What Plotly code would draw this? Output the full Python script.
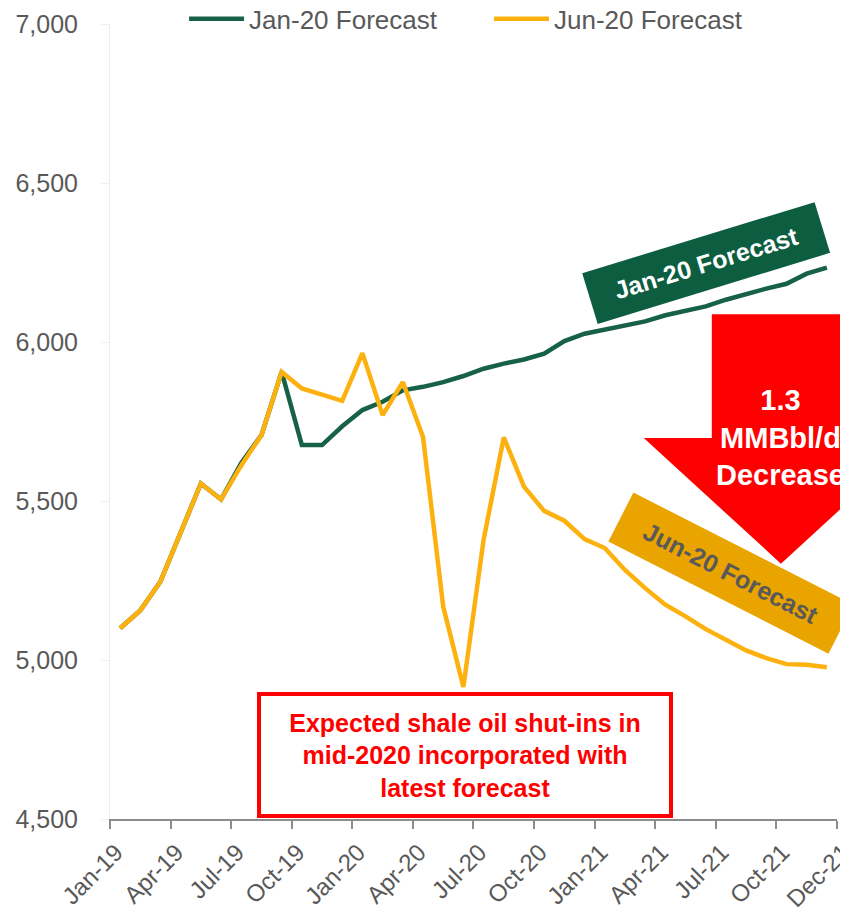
import plotly.graph_objects as go

# ---------------- data ----------------
months = [
    "Jan-19", "Feb-19", "Mar-19", "Apr-19", "May-19", "Jun-19",
    "Jul-19", "Aug-19", "Sep-19", "Oct-19", "Nov-19", "Dec-19",
    "Jan-20", "Feb-20", "Mar-20", "Apr-20", "May-20", "Jun-20",
    "Jul-20", "Aug-20", "Sep-20", "Oct-20", "Nov-20", "Dec-20",
    "Jan-21", "Feb-21", "Mar-21", "Apr-21", "May-21", "Jun-21",
    "Jul-21", "Aug-21", "Sep-21", "Oct-21", "Nov-21", "Dec-21",
]

jan20_forecast = [
    5100, 5156, 5247, 5404, 5555, 5505, 5620, 5707, 5906, 5676, 5676, 5735,
    5786, 5812, 5848, 5859, 5874, 5893, 5916, 5932, 5945, 5963, 6003, 6026,
    6040, 6052, 6065, 6084, 6099, 6112, 6133, 6152, 6168, 6183, 6215, 6234,
]

jun20_forecast = [
    5100, 5156, 5247, 5404, 5555, 5505, 5612, 5707, 5906, 5854, 5835, 5815,
    5965, 5770, 5874, 5702, 5168, 4915, 5378, 5700, 5545, 5469, 5438, 5380,
    5352, 5283, 5226, 5174, 5137, 5097, 5064, 5030, 5006, 4987, 4985, 4977,
]

tick_labels = ["Jan-19", "Apr-19", "Jul-19", "Oct-19", "Jan-20", "Apr-20",
               "Jul-20", "Oct-20", "Jan-21", "Apr-21", "Jul-21", "Oct-21", "Dec-21"]
y_ticks = [4500, 5000, 5500, 6000, 6500, 7000]

# ---------------- style ----------------
FONT = "Liberation Sans, Arial, sans-serif"
GREEN = "#17604A"
GOLD = "#FDB10F"
GRAY = "#595959"
RED = "#FF0000"

x_idx = list(range(len(months)))
# ticks sit on category boundaries every 3 months, last one closes the axis
tick_pos = [i - 0.5 for i in range(0, len(months), 3)] + [len(months) - 0.5]

fig = go.Figure()
fig.add_trace(go.Scatter(
    x=x_idx, y=jan20_forecast, text=months, mode="lines", name="Jan-20 Forecast",
    line=dict(color=GREEN, width=4.5), legend="legend",
    hovertemplate="%{text}: %{y:,}<extra></extra>"))
fig.add_trace(go.Scatter(
    x=x_idx, y=jun20_forecast, text=months, mode="lines", name="Jun-20 Forecast",
    line=dict(color=GOLD, width=4.5), legend="legend2",
    hovertemplate="%{text}: %{y:,}<extra></extra>"))

# red block arrow (paper coordinates)
arrow = [(0.8278, 0.6349), (1.0179, 0.6349), (1.0179, 0.4793), (1.1116, 0.4793),
         (0.9229, 0.3212), (0.7342, 0.4793), (0.8278, 0.4793)]
path = "M " + " L ".join(f"{a},{b}" for a, b in arrow) + " Z"
fig.add_shape(type="path", path=path, xref="paper", yref="paper",
              fillcolor=RED, line=dict(width=0), layer="above")

fig.add_annotation(x=32.72, y=5701, xref="x", yref="y", showarrow=False,
                   text="<b>1.3<br>MMBbl/d<br>Decrease</b>",
                   font=dict(family=FONT, size=29, color="white"))

fig.add_annotation(x=29.02, y=6250, xref="x", yref="y", showarrow=False,
                   text="<b>Jan-20 Forecast</b>", textangle=-17,
                   width=236, height=46, borderpad=3, bgcolor="#0D5E40",
                   font=dict(family=FONT, size=25, color="white"))

fig.add_annotation(x=30.24, y=5274, xref="x", yref="y", showarrow=False,
                   text="<b>Jun-20 Forecast</b>", textangle=27,
                   width=240, height=48, borderpad=3, bgcolor="#E9A400",
                   font=dict(family=FONT, size=25, color=GRAY))

fig.add_annotation(x=17.1, y=4700, xref="x", yref="y", showarrow=False,
                   text="<b>Expected shale oil shut-ins in<br>mid-2020 incorporated with<br>latest forecast</b>",
                   width=404, height=114, borderpad=2, borderwidth=4,
                   bordercolor=RED, bgcolor="white",
                   font=dict(family=FONT, size=25, color=RED))

legend_common = dict(orientation="h", xref="container", yref="container",
                     xanchor="left", yanchor="middle", y=0.988, itemwidth=55,
                     font=dict(family=FONT, size=26, color=GRAY),
                     bgcolor="rgba(0,0,0,0)")

fig.update_layout(
    width=840, height=903,
    margin=dict(l=102, r=11, t=16, b=92, autoexpand=False),
    paper_bgcolor="white", plot_bgcolor="white",
    font=dict(family=FONT, size=25, color=GRAY),
    showlegend=True,
    legend=dict(x=0.2096, **legend_common),
    legend2=dict(x=0.5726, **legend_common),
    xaxis=dict(range=[-0.5, len(months) - 0.5 + 0.001], tickmode="array",
               tickvals=tick_pos, ticktext=tick_labels, tickangle=-45,
               ticklabeloverflow="allow", ticklabelshift=6,
               showgrid=False, zeroline=False, showline=True,
               linecolor="#8C8C8C", linewidth=1.5, ticks="outside",
               ticklen=8, tickcolor="#8C8C8C", tickwidth=1.5,
               tickfont=dict(family=FONT, size=24, color=GRAY)),
    yaxis=dict(range=[4500, 7000], tickmode="array", tickvals=y_ticks,
               tickformat=",", showgrid=False, zeroline=False, showline=True,
               linecolor="#EFEFEF", linewidth=1, ticks="outside", ticklen=8,
               tickcolor="#EFEFEF", ticklabelstandoff=18,
               tickfont=dict(family=FONT, size=25, color=GRAY)),
)

fig.write_html("out.html")
